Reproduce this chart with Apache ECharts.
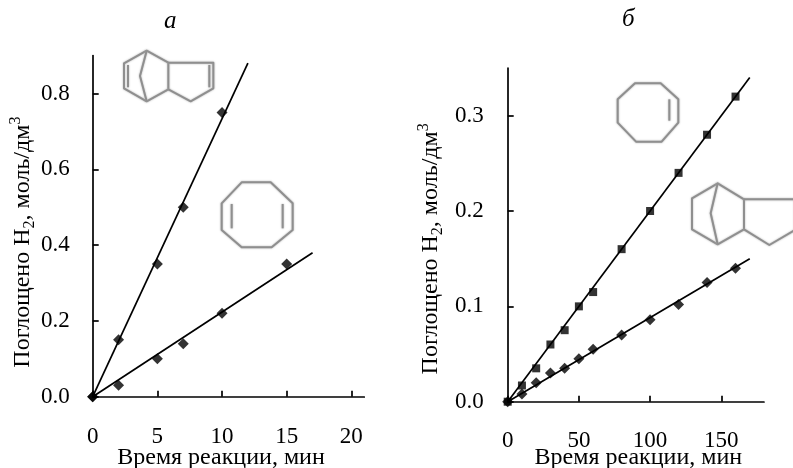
<!DOCTYPE html>
<html><head><meta charset="utf-8">
<style>html,body{margin:0;padding:0;background:#fff}#c{width:793px;height:468px}</style>
<script src="https://cdn.jsdelivr.net/npm/echarts@6/dist/echarts.min.js"></script>
</head><body><div id="c"></div>
<script>
const xTicksA = [0, 5, 10, 15, 20];
const yTicksA = [0, 0.2, 0.4, 0.6, 0.8];
const xTicksB = [0, 50, 100, 150];
const yTicksB = [0, 0.1, 0.2, 0.3];
const aUpperPts = [[0, 0], [2, 0.15], [5, 0.35], [7, 0.5], [10, 0.75]];
const aLowerPts = [[0, 0], [2, 0.03], [5, 0.1], [7, 0.14], [10, 0.22], [15, 0.35]];
const aUpperFit = [[0, 0], [12, 0.88]];
const aLowerFit = [[0, 0], [17, 0.38]];
const bUpperPts = [[0, 0], [10, 0.017], [20, 0.035], [30, 0.06], [40, 0.075], [50, 0.1], [60, 0.115], [80, 0.16], [100, 0.2], [120, 0.24], [140, 0.28], [160, 0.32]];
const bLowerPts = [[0, 0], [10, 0.008], [20, 0.02], [30, 0.03], [40, 0.035], [50, 0.045], [60, 0.055], [80, 0.07], [100, 0.086], [120, 0.102], [140, 0.125], [160, 0.14]];
const bUpperFit = [[0, 0], [170, 0.34]];
const bLowerFit = [[0, 0], [170, 0.15]];
const xTitle = 'Время реакции, мин';
const yTitle = 'Поглощено H{sub|2}, моль/дм{sup|3}';

const F = '"Liberation Serif","Times New Roman",serif';
const chart = echarts.init(document.getElementById('c'), null, {renderer: 'canvas'});
const axLine = {show: true, onZero: false, lineStyle: {color: '#000', width: 1.7}};
const tickLine = {color: '#000', width: 1.7};
function xAxis(i, max, ticks, margin, gap, pad) {
  return {type: 'value', gridIndex: i, min: 0, max, splitLine: {show: false}, axisLine: axLine,
    axisTick: {show: true, inside: true, length: 6, customValues: ticks, lineStyle: tickLine},
    axisLabel: {customValues: ticks, color: '#000', fontFamily: F, fontSize: 23, margin},
    name: xTitle, nameLocation: 'middle', nameGap: gap, nameMoveOverlap: false,
    nameTextStyle: {color: '#000', fontFamily: F, fontSize: 24, padding: pad}};
}
function yAxis(i, max, ticks, margin, gap, pad) {
  return {type: 'value', gridIndex: i, min: 0, max, splitLine: {show: false}, axisLine: axLine,
    axisTick: {show: true, inside: true, length: 6, customValues: ticks, lineStyle: tickLine},
    axisLabel: {customValues: ticks, color: '#000', fontFamily: F, fontSize: 23, margin, formatter: v => v.toFixed(1)},
    name: yTitle, nameLocation: 'middle', nameGap: gap, nameMoveOverlap: false,
    nameTextStyle: {color: '#000', fontFamily: F, fontSize: 24, lineHeight: 30, padding: pad,
      rich: {sub: {fontFamily: F, fontSize: 16, verticalAlign: 'bottom', lineHeight: 24, color: '#000'},
             sup: {fontFamily: F, fontSize: 16, verticalAlign: 'top', lineHeight: 24, color: '#000'}}}};
}
function fit(i, data) {
  return {type: 'line', xAxisIndex: i, yAxisIndex: i, data, showSymbol: false, symbol: 'none', silent: true,
    lineStyle: {color: '#000', width: 1.7}, z: 2};
}
function pts(i, data, symbol, size) {
  return {type: 'scatter', xAxisIndex: i, yAxisIndex: i, data, symbol, symbolSize: size,
    itemStyle: {color: '#000'}, z: 3};
}
function poly(points, closed) {
  return {type: closed ? 'polygon' : 'polyline', shape: {points}, silent: true,
    style: {stroke: '#8f8f8f', fill: null, lineWidth: 2, lineJoin: 'round', shadowBlur: 2, shadowColor: '#aaa'}};
}
// Structural formula sketches: zoom-crop coordinates scaled to the page
const z = (ox, oy, list) => list.map(p => [ox + p[0] / 3, oy + p[1] / 3]);
const decor = [
  poly(z(60, 0, [[260,152],[192,190],[192,265],[260,304],[325,268],[325,188]]), true),
  poly(z(60, 0, [[260,152],[240,228],[260,304]])),
  poly(z(60, 0, [[325,188],[460,188],[460,265],[392,304],[325,268]])),
  poly(z(60, 0, [[204,195],[204,262]])),
  poly(z(60, 0, [[448,195],[448,262]])),
  poly(z(60, 0, [[545,547],[632,547],[698,610],[698,690],[635,742],[545,742],[485,690],[485,610]]), true),
  poly(z(60, 0, [[515,612],[515,685]])),
  poly(z(60, 0, [[668,612],[668,685]])),
  poly(z(480, 0, [[465,250],[542,250],[595,298],[595,368],[545,425],[468,425],[413,368],[413,298]]), true),
  poly(z(480, 0, [[568,298],[568,362]])),
  poly(z(480, 0, [[713,550],[636,595],[636,688],[713,733],[792,688],[792,598]]), true),
  poly(z(480, 0, [[713,550],[692,640],[713,733]])),
  poly(z(480, 0, [[792,598],[945,598],[945,690],[868,735],[792,688]])),
  {type: 'text', left: 164, top: 9, silent: true, style: {text: 'а', fill: '#000', font: 'italic 25px ' + F}},
  {type: 'text', left: 622, top: 7, silent: true, style: {text: 'б', fill: '#000', font: 'italic 25px ' + F}}
];
chart.setOption({
  animation: false,
  backgroundColor: '#fff',
  grid: [
    {left: 92.7, width: 271.6, top: 55.6, height: 341.1, outerBoundsMode: 'none'},
    {left: 507.7, width: 256.3, top: 68, height: 333.7, outerBoundsMode: 'none'}
  ],
  xAxis: [xAxis(0, 21, xTicksA, 29, 49, [0, 15, 0, 0]), xAxis(1, 180, xTicksB, 28, 44, [0, 0, 0, 5])],
  yAxis: [yAxis(0, 0.9, yTicksA, 23, 55, [0, 32, 0, 0]), yAxis(1, 0.35, yTicksB, 24, 62, [0, 28, 0, 0])],
  series: [
    fit(0, aUpperFit), fit(0, aLowerFit),
    pts(0, aUpperPts, 'diamond', 11), pts(0, aLowerPts, 'diamond', 11),
    fit(1, bUpperFit), fit(1, bLowerFit),
    pts(1, bUpperPts, 'rect', 8), pts(1, bLowerPts, 'diamond', 11)
  ],
  graphic: decor
});
</script></body></html>
